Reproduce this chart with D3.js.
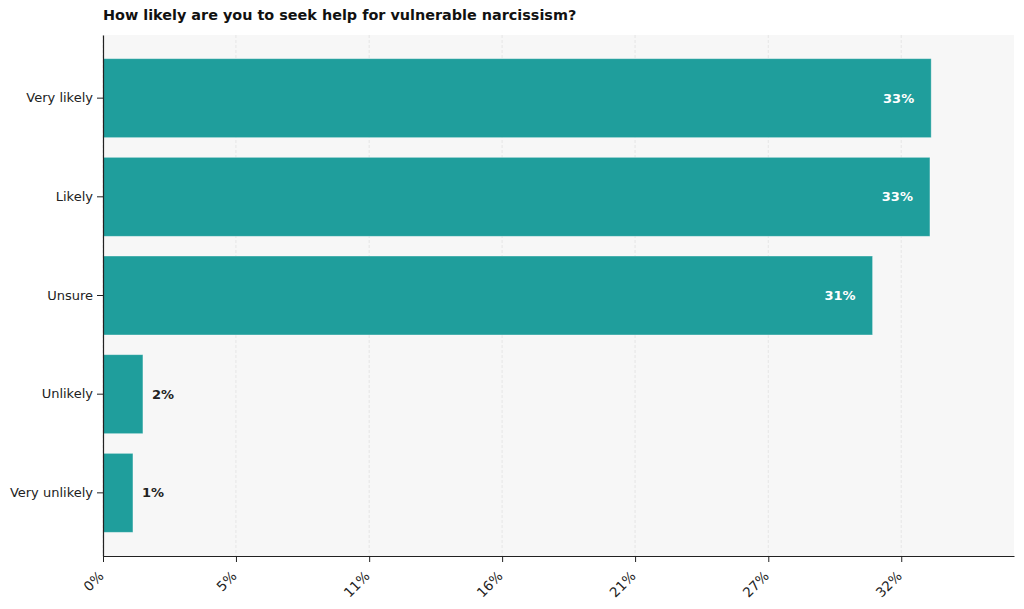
<!DOCTYPE html>
<html>
<head>
<meta charset="utf-8">
<script src="https://cdn.jsdelivr.net/npm/d3@7.9.0/dist/d3.min.js"></script>
<style>
  body { margin: 0; background: #fff; }
  text { font-family: "DejaVu Sans", sans-serif; }
</style>
</head>
<body>
<svg id="chart" width="1024" height="609"></svg>
<script>
// answers, top to bottom
const categories = ['Very likely', 'Likely', 'Unsure', 'Unlikely', 'Very unlikely'];
const percents = [33.2, 33.15, 30.85, 1.6, 1.2];
const valueLabels = ['33%', '33%', '31%', '2%', '1%'];
const tickValues = [0, 5.33, 10.67, 16, 21.33, 26.67, 32];
const tickLabels = ['0%', '5%', '11%', '16%', '21%', '27%', '32%'];
const title = 'How likely are you to seek help for vulnerable narcissism?';

const svg = d3.select('#chart');
const margin = { top: 35, right: 10, bottom: 53, left: 103 };
const width = 1024 - margin.left - margin.right;
const height = 609 - margin.top - margin.bottom;

const g = svg.append('g').attr('transform', `translate(${margin.left},${margin.top})`);

let x = d3.scaleLinear()
    .domain([0, d3.max(percents) * 1.1])
    .range([0, width]);

let y = d3.scaleBand()
    .domain(categories)
    .range([0, height])
    .paddingInner(0.2)
    .paddingOuter(0.24);

// background
g.append('rect')
    .attr('width', width)
    .attr('height', height)
    .attr('fill', '#f7f7f7');

// grid
g.selectAll('.grid')
    .data(tickValues)
    .enter().append('line')
    .attr('x1', d => x(d)).attr('x2', d => x(d))
    .attr('y1', 0).attr('y2', height)
    .attr('stroke', '#e2e2e2')
    .attr('stroke-width', 0.8)
    .attr('stroke-dasharray', '3,2');

// bars
g.selectAll('.bar')
    .data(percents)
    .enter().append('rect')
    .attr('x', 0)
    .attr('y', (d, i) => y(categories[i]))
    .attr('width', d => x(d))
    .attr('height', y.bandwidth())
    .attr('fill', '#1f9e9c')
    .attr('stroke', '#ffffff')
    .attr('stroke-opacity', 0.4)
    .attr('stroke-width', 0.8);

// value labels
percents.forEach((d, i) => {
    const inside = d > 5;
    g.append('text')
        .attr('x', inside ? x(d) - 17 : x(d) + 9)
        .attr('y', y(categories[i]) + y.bandwidth() / 2)
        .attr('dy', '0.35em')
        .attr('text-anchor', inside ? 'end' : 'start')
        .attr('font-size', 13)
        .attr('font-weight', 'bold')
        .attr('fill', inside ? '#ffffff' : '#222222')
        .text(valueLabels[i]);
});

// y axis
const yAxis = g.append('g')
    .call(d3.axisLeft(y).tickSize(6).tickSizeOuter(0).tickPadding(4));
yAxis.select('.domain').attr('stroke', '#222').attr('stroke-width', 1.2);
yAxis.selectAll('.tick line').attr('stroke', '#222');
yAxis.selectAll('.tick text')
    .attr('font-size', 13)
    .attr('fill', '#222')
    .style('font-family', '"DejaVu Sans", sans-serif');

// x axis
const xAxis = g.append('g')
    .attr('transform', `translate(0,${height})`)
    .call(d3.axisBottom(x)
        .tickValues(tickValues)
        .tickFormat((d, i) => tickLabels[i])
        .tickSize(6)
        .tickSizeOuter(0));
xAxis.select('.domain').attr('stroke', '#222').attr('stroke-width', 1.2);
xAxis.selectAll('.tick line').attr('stroke', '#222');
xAxis.selectAll('.tick text')
    .attr('font-size', 13.5)
    .attr('fill', '#222')
    .style('font-family', '"DejaVu Sans", sans-serif')
    .attr('text-anchor', 'end')
    .attr('dy', null)
    .attr('y', 0)
    .attr('transform', 'translate(1,21) rotate(-45)');

// title
svg.append('text')
    .attr('x', margin.left)
    .attr('y', 20)
    .attr('font-size', 14.4)
    .attr('font-weight', 'bold')
    .attr('fill', '#111')
    .text(title);
</script>
</body>
</html>
